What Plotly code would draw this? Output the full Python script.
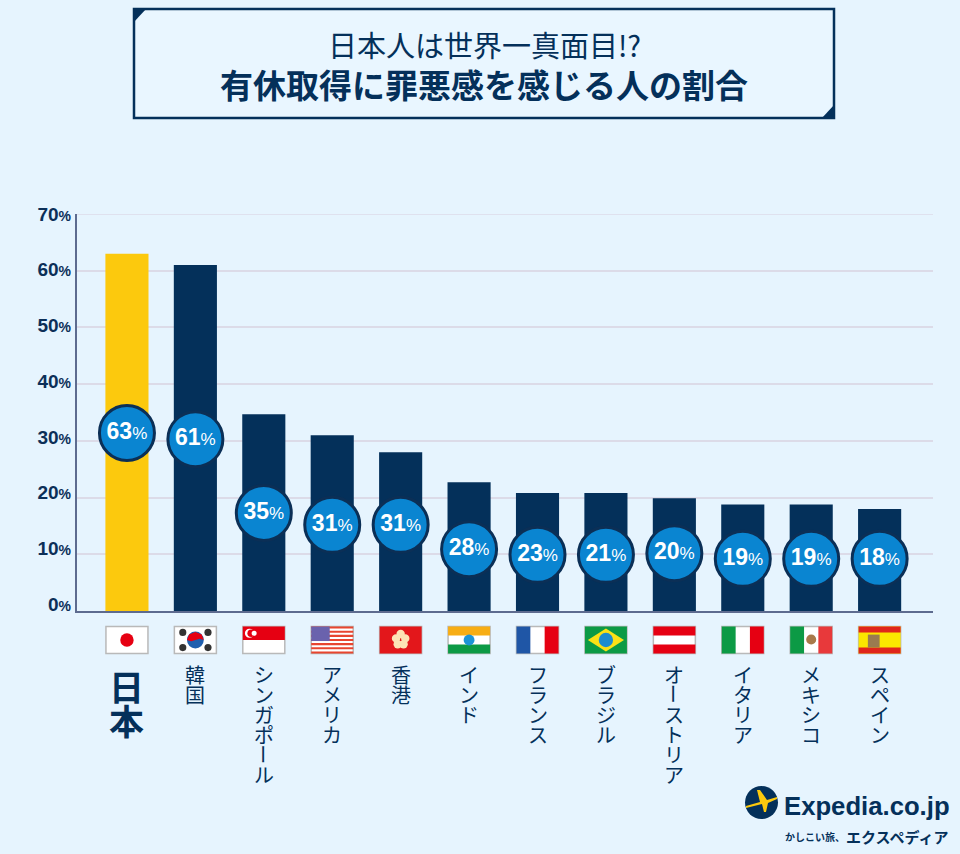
import plotly.graph_objects as go

categories = ["日本", "韓国", "シンガポール", "アメリカ", "香港", "インド", "フランス", "ブラジル", "オーストリア", "イタリア", "メキシコ", "スペイン"]
bar_values = [63, 61, 34.7, 31, 28, 22.7, 20.8, 20.8, 19.9, 18.8, 18.8, 18]
label_values = [63, 61, 35, 31, 31, 28, 23, 21, 20, 19, 19, 18]
bubble_levels = [31.4, 30.3, 17.3, 15.2, 15.2, 10.9, 9.9, 9.9, 10.2, 9.2, 9.2, 9.2]
tick_values = [0, 10, 20, 30, 40, 50, 60, 70]
title_top = "日本人は世界一真面目!?"
title_main = "有休取得に罪悪感を感じる人の割合"

NAVY = "#04305a"
BG = "#e6f4fe"
GRID = "#dcdbe8"
L, R, T, B = 77, 933, 214, 611
FONT = "Liberation Sans, Noto Sans CJK JP, sans-serif"
JP = "Noto Sans CJK JP, sans-serif"


def px(x):
    return (x - L) / (R - L)


def py(y):
    return (B - y) / (B - T)


shapes = []
annotations = []


def page_shape(kind, x0, y0, x1, y1, fill, line=None, lw=0, layer="above"):
    shapes.append(dict(type=kind, xref="paper", yref="paper", x0=px(x0), x1=px(x1), y0=py(y0), y1=py(y1),
                       fillcolor=fill, line=dict(color=line or fill, width=lw), layer=layer))


def page_path(points, fill):
    d = "M" + "L".join(f"{px(a):.5f},{py(b):.5f}" for a, b in points) + "Z"
    shapes.append(dict(type="path", xref="paper", yref="paper", path=d, fillcolor=fill, line=dict(width=0), layer="above"))


def page_text(x, y, text, size, color=NAVY, anchor="center", font=JP, angle=0):
    annotations.append(dict(xref="paper", yref="paper", x=px(x), y=py(y), text=text, showarrow=False,
                            xanchor=anchor, yanchor="middle", textangle=angle,
                            font=dict(size=size, color=color, family=font)))


# title box
page_shape("rect", 134, 9, 834, 118, "#e9f6ff", NAVY, 2.5, "below")
page_path([(133, 8), (147, 8), (133, 23)], NAVY)
page_path([(835, 119), (821, 119), (835, 104)], NAVY)
page_text(484, 44, title_top, 29)
page_text(484, 84, f"<b>{title_main}</b>", 33)

# gridline at the top of the axis
shapes.append(dict(type="line", xref="paper", yref="y", x0=0, x1=1, y0=70, y1=70,
                   line=dict(color=GRID, width=1.5), layer="below"))

# flags
FW, FH, FY = 42, 27, 626.5


def flag_rect(i, fx0, fy0, fx1, fy1, color, kind="rect"):
    c = i
    shapes.append(dict(type=kind, xref="x", yref="paper",
                       x0=c + (fx0 - 0.5) * FW / 68.4, x1=c + (fx1 - 0.5) * FW / 68.4,
                       y0=py(FY + fy0 * FH), y1=py(FY + fy1 * FH),
                       fillcolor=color, line=dict(width=0), layer="above"))


def flag_poly(i, pts, color):
    d = "M" + "L".join(f"{i + (a - 0.5) * FW / 68.4:.4f},{py(FY + b * FH):.5f}" for a, b in pts) + "Z"
    shapes.append(dict(type="path", xref="x", yref="paper", path=d, fillcolor=color, line=dict(width=0), layer="above"))


for i in range(12):
    shapes.append(dict(type="rect", xref="x", yref="paper", x0=i - FW / 2 / 68.4, x1=i + FW / 2 / 68.4,
                       y0=py(FY), y1=py(FY + FH), fillcolor="#ffffff",
                       line=dict(color="#b9b9b9", width=1.5), layer="above"))


def circ(i, cx, cy, r, color):
    ry = r * FW / FH
    flag_rect(i, cx - r, cy - ry, cx + r, cy + ry, color, "circle")


RED = "#e60012"
# Japan
circ(0, .5, .5, .16, RED)
# Korea
circ(1, .5, .5, .2, "#1f5fae")
flag_poly(1, [(.3, .5), (.35, .3), (.5, .2), (.65, .3), (.7, .5), (.6, .45), (.5, .5), (.4, .55)], RED)
for cx, cy in [(.2, .22), (.8, .22), (.2, .78), (.8, .78)]:
    circ(1, cx, cy, .085, "#333333")
# Singapore
flag_rect(2, 0, 0, 1, .5, RED)
circ(2, .16, .25, .11, "#ffffff")
circ(2, .2, .25, .09, RED)
circ(2, .27, .25, .06, "#ffffff")
# USA
for s in range(0, 7):
    flag_rect(3, 0, s * 2 / 13, 1, (s * 2 + 1) / 13, "#e8452f")
flag_rect(3, 0, 0, .44, 7 / 13, "#6a62ad")
# Hong Kong
flag_rect(4, 0, 0, 1, 1, "#e3171b")
for cx, cy in [(.5, .28), (.39, .44), (.61, .44), (.43, .66), (.57, .66)]:
    circ(4, cx, cy, .1, "#fde3b5")
# India
flag_rect(5, 0, 0, 1, .33, "#f7ad14")
flag_rect(5, 0, .67, 1, 1, "#0c9a45")
circ(5, .5, .5, .13, "#1c94d6")
# France
flag_rect(6, 0, 0, .33, 1, "#1f56a6")
flag_rect(6, .67, 0, 1, 1, RED)
# Brazil
flag_rect(7, 0, 0, 1, 1, "#0c9a45")
flag_poly(7, [(.5, .07), (.93, .5), (.5, .93), (.07, .5)], "#fbe116")
circ(7, .5, .5, .17, "#1c8ccf")
# Austria
flag_rect(8, 0, 0, 1, .33, RED)
flag_rect(8, 0, .67, 1, 1, RED)
# Italy
flag_rect(9, 0, 0, .33, 1, "#0c9a45")
flag_rect(9, .67, 0, 1, 1, RED)
# Mexico
flag_rect(10, 0, 0, .33, 1, "#0c9a45")
flag_rect(10, .67, 0, 1, 1, "#e8393b")
circ(10, .5, .48, .12, "#a8794a")
# Spain
flag_rect(11, 0, 0, 1, 1, "#fbe600")
flag_rect(11, 0, 0, 1, .22, "#e0251b")
flag_rect(11, 0, .78, 1, 1, "#e0251b")
flag_rect(11, .22, .3, .5, .78, "#9a7b50")


# country names: vertical setting; the annotation size sets the line step (1.3 em)
def vertical_block(i, chars, first_index, top, step, glyph, bold=False):
    body = "<br>".join(chars)
    if bold:
        body = f"<b>{body}</b>"
    center = top + (first_index + (len(chars) - 1) / 2) * step
    annotations.append(dict(xref="x", yref="paper", x=i, y=py(center), showarrow=False,
                            yanchor="middle", xanchor="center", align="center",
                            text=f'<span style="font-size:{glyph}px">{body}</span>',
                            font=dict(size=step / 1.3, color=NAVY, family=JP)))


TOP, STEP = 674, 20
for i, name in enumerate(categories):
    if i == 0:
        vertical_block(i, list(name), 0, 686, 33.5, 35, bold=True)
        continue
    if "ー" in name:
        k = name.index("ー")
        vertical_block(i, list(name[:k]), 0, TOP, STEP, 20)
        annotations.append(dict(xref="x", yref="paper", x=i, y=py(TOP + k * STEP), text="ー", showarrow=False,
                                textangle=90, yanchor="middle", xanchor="center",
                                font=dict(size=20, color=NAVY, family=JP)))
        vertical_block(i, list(name[k + 1:]), k + 1, TOP, STEP, 20)
    else:
        vertical_block(i, list(name), 0, TOP, STEP, 20)

# logo
page_shape("circle", 745, 786, 778, 819, NAVY)
page_path([(746, 806), (760, 802), (757, 790), (760, 790), (767, 800), (777, 797), (777, 799), (768, 803), (766, 812), (764, 812), (762, 804), (746, 808)], "#fcc90d")
page_text(782, 806, "<b>Expedia.co.jp</b>", 25.7, anchor="left", font="Liberation Sans, sans-serif")
page_text(783, 836, "<b>かしこい旅、</b>", 10, anchor="left")
page_text(844, 836, "<b>エクスペディア</b>", 15, anchor="left")

fig = go.Figure()
fig.add_bar(x=categories, y=bar_values, width=0.63,
            marker=dict(color=["#fcc90d"] + [NAVY] * 11, line=dict(width=0)), hoverinfo="x+y", showlegend=False)
fig.add_scatter(x=categories, y=bubble_levels, mode="markers+text",
                marker=dict(size=55, color="#0a85d1", line=dict(color="#0b2f56", width=3)),
                text=[f'<b>{v}</b><span style="font-size:17px">%</span>' for v in label_values],
                textposition="middle center", textfont=dict(size=23, color="#ffffff", family=FONT),
                cliponaxis=False, hoverinfo="skip", showlegend=False)
fig.add_scatter(x=categories, y=[None] * 12, yaxis="y2", mode="markers", hoverinfo="skip", showlegend=False)

fig.update_layout(
    width=960, height=854, margin=dict(l=L, r=960 - R, t=T, b=854 - B, autoexpand=False),
    paper_bgcolor=BG, plot_bgcolor=BG, bargap=0.37,
    xaxis=dict(type="category", range=[-0.73, 11.78], showticklabels=False, ticks="", showgrid=False,
               showline=True, linecolor="#5d6b8f", linewidth=2.2, zeroline=False, fixedrange=True),
    yaxis=dict(range=[0, 70], tickvals=tick_values, showticklabels=False, ticks="", showgrid=True,
               gridcolor=GRID, gridwidth=1.5, showline=True, linecolor="#5d6b8f", linewidth=2.2,
               zeroline=False, fixedrange=True),
    yaxis2=dict(overlaying="y", side="left", range=[-1.26, 70], tickvals=tick_values,
                ticktext=[f'<b>{v}</b><span style="font-size:14px"><b>%</b></span>' for v in tick_values],
                tickfont=dict(size=19, color="#0c2f58", family=FONT), ticks="", showgrid=False,
                ticklabelstandoff=5, showline=False, zeroline=False, fixedrange=True),
    shapes=shapes, annotations=annotations,
)
fig.write_html("out.html", config={"displayModeBar": False},
               post_script="document.body.style.margin='0';document.body.style.background='#e6f4fe';")
